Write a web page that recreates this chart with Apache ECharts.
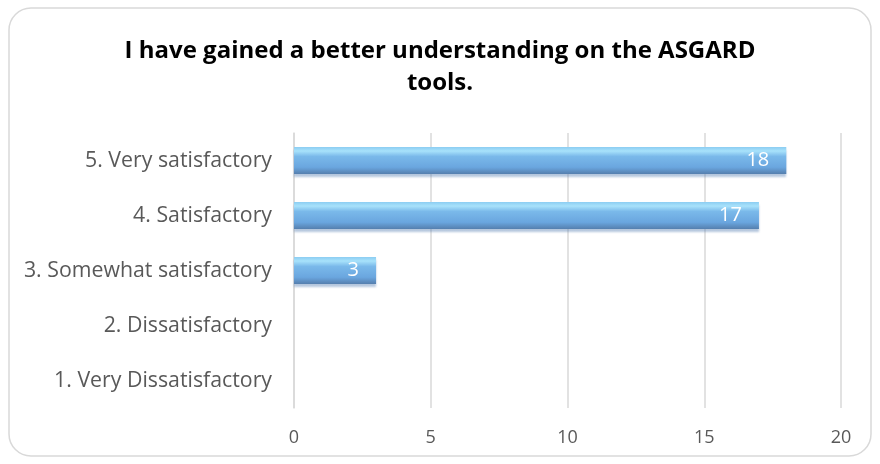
<!DOCTYPE html>
<html><head><meta charset="utf-8">
<script src="https://cdn.jsdelivr.net/npm/echarts@6/dist/echarts.min.js"></script>
<style>html,body{margin:0;padding:0;background:#fff}#c{width:880px;height:464px}</style>
</head><body><div id="c"></div>
<script>
const categories = ['1. Very Dissatisfactory','2. Dissatisfactory','3. Somewhat satisfactory','4. Satisfactory','5. Very satisfactory'];
const values = [0, 0, 3, 17, 18];
const titleText = 'I have gained a better understanding on the ASGARD\ntools.';
const chart = echarts.init(document.getElementById('c'));
chart.setOption({
  animation:false,
  graphic:[{type:'rect',shape:{x:9,y:8,width:862,height:448,r:22},style:{fill:'none',stroke:'#d9d9d9',lineWidth:1.5},z:-1}],
  title:{text:titleText,left:'center',top:30,textStyle:{fontFamily:'Open Sans',fontWeight:'bold',fontSize:24,color:'#000',lineHeight:32}},
  grid:{left:294,right:39,top:133,bottom:56},
  xAxis:{type:'value',min:0,max:20,interval:5,
    axisLine:{show:false},axisTick:{show:false},
    axisLabel:{fontFamily:'Open Sans',fontSize:18,color:'#595959',margin:21},
    splitLine:{lineStyle:{color:'#d9d9d9',width:1.5}}},
  yAxis:{type:'category',data:categories,
    axisLine:{show:true,lineStyle:{color:'#d9d9d9',width:1.5}},axisTick:{show:false},
    axisLabel:{fontFamily:'Open Sans',fontSize:21.3,color:'#595959',margin:22}},
  series:[{type:'bar',data:values,barWidth:27,
    itemStyle:{color:{type:'linear',x:0,y:0,x2:0,y2:1,colorStops:[
      {offset:0,color:'#8ccdf2'},{offset:0.15,color:'#a8e2fb'},{offset:0.35,color:'#7ab9ea'},{offset:0.75,color:'#6aa6df'},{offset:1,color:'#557fae'}]},
      shadowColor:'rgba(90,130,180,0.45)',shadowOffsetY:3,shadowBlur:2},
    label:{show:true,position:'insideRight',distance:17,color:'#fff',fontFamily:'Open Sans',fontSize:20,
      formatter:p=>p.value>0?p.value:''}}]
});
</script></body></html>
